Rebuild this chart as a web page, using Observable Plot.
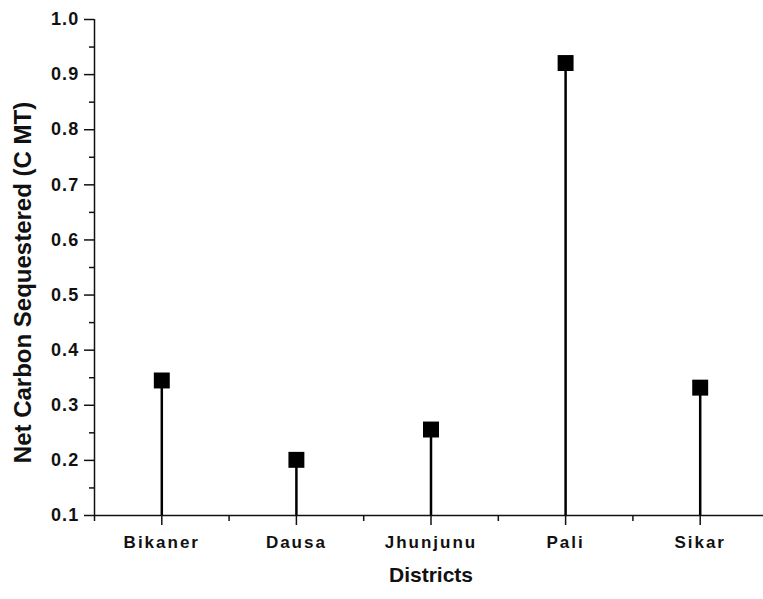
<!DOCTYPE html>
<html>
<head>
<meta charset="utf-8">
<script src="https://cdn.jsdelivr.net/npm/d3@7"></script>
<script src="https://cdn.jsdelivr.net/npm/@observablehq/plot@0.6"></script>
<style>
  html, body { margin: 0; padding: 0; background: #fff; }
  #chart svg { display: block; }
</style>
</head>
<body>
<div id="chart"></div>
<script>
const districts = ["Bikaner", "Dausa", "Jhunjunu", "Pali", "Sikar"];
const carbon = [0.345, 0.201, 0.256, 0.921, 0.332];
const yTicks = [0.1, 0.2, 0.3, 0.4, 0.5, 0.6, 0.7, 0.8, 0.9, 1.0];
const yMinorTicks = [0.15, 0.25, 0.35, 0.45, 0.55, 0.65, 0.75, 0.85, 0.95];
const xMinorTicks = [-0.5, 0.5, 1.5, 2.5, 3.5];
const yLabel = "Net Carbon Sequestered (C MT)";
const xLabel = "Districts";
const baseline = 0.1;

const data = districts.map((d, i) => ({ i, district: d, value: carbon[i] }));

const chart = Plot.plot({
  width: 763,
  height: 599,
  marginLeft: 94,
  marginRight: -4,
  marginTop: 19,
  marginBottom: 84,
  style: { fontFamily: "'Liberation Sans', Arial, sans-serif", fontWeight: "bold", color: "#111", background: "#fff" },
  x: { domain: [-0.5, 4.5] },
  y: { domain: [0.1, 1.0] },
  marks: [
    Plot.axisY(yTicks, { tickSize: 10, tickPadding: 5, tickFormat: d3.format(".1f"), label: null, strokeWidth: 1.5 }),
    Plot.axisY(yMinorTicks, { tickSize: 5, tickFormat: () => "", label: null, strokeWidth: 1.5 }),
    Plot.axisX(districts.map((d, i) => i), { tickSize: 10, tickPadding: 10, tickFormat: i => districts[i], label: null, strokeWidth: 1.5 }),
    Plot.axisX(xMinorTicks, { tickSize: 6, tickFormat: () => "", label: null, strokeWidth: 1.5 }),
    Plot.ruleX([-0.5], { y1: 0.1, y2: 1.0, stroke: "#111", strokeWidth: 1.5 }),
    Plot.ruleY([0.1], { stroke: "#111", strokeWidth: 1.5 }),
    Plot.ruleX(data, { x: "i", y1: baseline, y2: "value", stroke: "#000", strokeWidth: 2.5 }),
    Plot.dot(data, { x: "i", y: "value", symbol: "square", r: 9, fill: "#000", stroke: "none" }),
    Plot.text([yLabel], { frameAnchor: "left", textAnchor: "middle", rotate: -90, dx: -71, dy: 15, fontSize: 24, fontWeight: "bold", fill: "#111", ariaLabel: "ylabel" }),
    Plot.text([xLabel], { frameAnchor: "bottom", dy: 66, fontSize: 21, fontWeight: "bold", fill: "#111", ariaLabel: "xlabel" })
  ]
});

const svg = d3.select(chart);
svg.selectAll('g[aria-label="y-axis tick label"]').attr("font-size", 18).style("font-size", "18px").style("letter-spacing", "1.2px");
svg.selectAll('g[aria-label="x-axis tick label"]').attr("font-size", 17).style("font-size", "17px").style("letter-spacing", "2px");
svg.selectAll('g[aria-label="ylabel"] text').style("letter-spacing", "0.15px");
svg.selectAll('g[aria-label="xlabel"] text').style("letter-spacing", "0.8px");

document.getElementById("chart").appendChild(chart);
</script>
</body>
</html>
